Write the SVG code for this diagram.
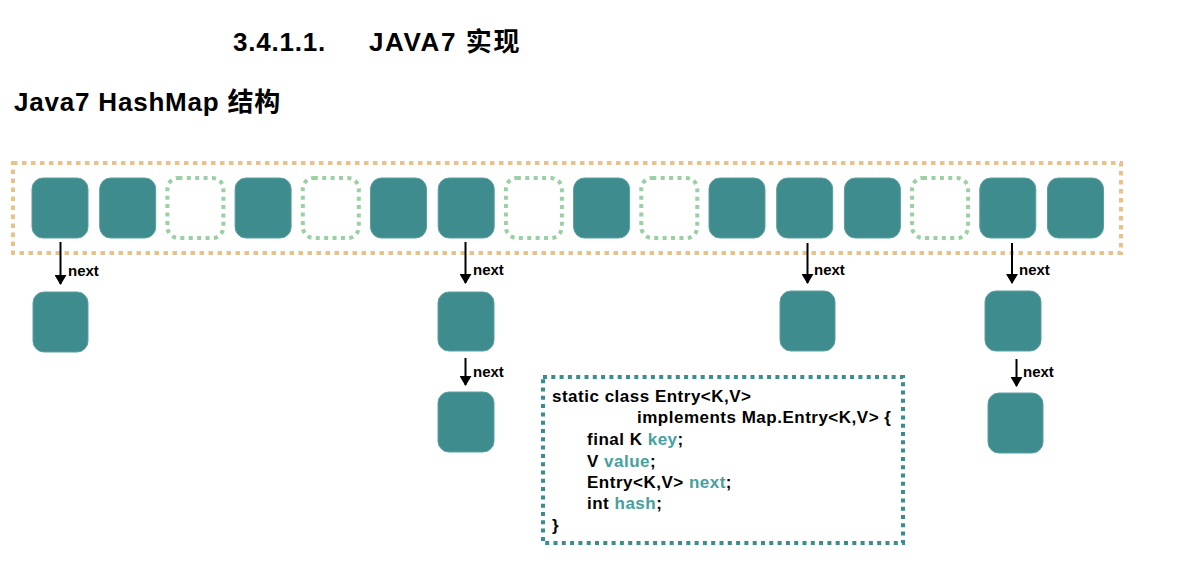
<svg xmlns="http://www.w3.org/2000/svg" width="1202" height="576" viewBox="0 0 1202 576">
  <style>
    .title { font-family: "Liberation Sans", "Noto Sans CJK SC", sans-serif; font-weight: bold; fill: #000; }
    .node { fill: #3F8C8F; stroke: #5A9FA1; stroke-width: 1; }
    .empty { fill: none; stroke: #9BCFA4; stroke-width: 4; stroke-dasharray: 4 4.4; }
    .bucket { fill: none; stroke: #E8C28B; stroke-width: 4; stroke-dasharray: 4.5 4.5; }
    .codebox { fill: none; stroke: #3A8C8E; stroke-width: 4; stroke-dasharray: 4 4.3; }
    .lbl { font-family: "Liberation Sans", sans-serif; font-weight: bold; font-size: 15px; fill: #000; }
    .code { font-family: "Liberation Sans", sans-serif; font-weight: bold; font-size: 17px; letter-spacing: 0.5px; fill: #000; }
    .hl { fill: #46A0A0; }
    .arrow { stroke: #000; stroke-width: 2; fill: none; marker-end: url(#ah); }
  </style>
  <defs>
    <marker id="ah" viewBox="0 0 10 12" refX="9" refY="6" markerWidth="10" markerHeight="12" markerUnits="userSpaceOnUse" orient="auto">
      <path d="M0,0 L10,6 L0,12 Z" fill="#000"/>
    </marker>
  </defs>
  <rect width="1202" height="576" fill="#fff"/>

  <g id="headings">
    <text class="title" x="233" y="51" font-size="26" letter-spacing="0.8">3.4.1.1.</text>
    <text class="title" x="369" y="51" font-size="26" letter-spacing="1.6">JAVA7 实现</text>
    <text class="title" x="14" y="111" font-size="26" letter-spacing="0.8">Java7 HashMap 结构</text>
  </g>

  <g id="table">
    <rect class="bucket" x="13" y="163" width="1108" height="90"/>
  </g>

  <g id="bucket-nodes">
    <rect id="b0" class="node" x="32" y="178" width="56" height="60" rx="11"/>
    <rect id="b1" class="node" x="99.7" y="178" width="56" height="60" rx="11"/>
    <rect id="b2" class="empty" x="167.4" y="178" width="56" height="60" rx="11"/>
    <rect id="b3" class="node" x="235.1" y="178" width="56" height="60" rx="11"/>
    <rect id="b4" class="empty" x="302.8" y="178" width="56" height="60" rx="11"/>
    <rect id="b5" class="node" x="370.5" y="178" width="56" height="60" rx="11"/>
    <rect id="b6" class="node" x="438.2" y="178" width="56" height="60" rx="11"/>
    <rect id="b7" class="empty" x="505.9" y="178" width="56" height="60" rx="11"/>
    <rect id="b8" class="node" x="573.6" y="178" width="56" height="60" rx="11"/>
    <rect id="b9" class="empty" x="641.3" y="178" width="56" height="60" rx="11"/>
    <rect id="b10" class="node" x="709" y="178" width="56" height="60" rx="11"/>
    <rect id="b11" class="node" x="776.7" y="178" width="56" height="60" rx="11"/>
    <rect id="b12" class="node" x="844.4" y="178" width="56" height="60" rx="11"/>
    <rect id="b13" class="empty" x="912.1" y="178" width="56" height="60" rx="11"/>
    <rect id="b14" class="node" x="979.8" y="178" width="56" height="60" rx="11"/>
    <rect id="b15" class="node" x="1047.5" y="178" width="56" height="60" rx="11"/>
  </g>

  <g id="chain-nodes">
    <rect id="c0" class="node" x="33" y="292" width="55" height="60" rx="11"/>
    <rect id="c1" class="node" x="438" y="292" width="56" height="59" rx="11"/>
    <rect id="c2" class="node" x="438" y="392" width="56" height="60" rx="11"/>
    <rect id="c3" class="node" x="780" y="291" width="55" height="60" rx="11"/>
    <rect id="c4" class="node" x="985" y="291" width="56" height="60" rx="11"/>
    <rect id="c5" class="node" x="988" y="393" width="55" height="60" rx="11"/>
  </g>

  <g id="connectors">
    <line class="arrow" x1="60.5" y1="242" x2="60.5" y2="284"/>
    <text class="lbl" x="68" y="276">next</text>
    <line class="arrow" x1="465.5" y1="242" x2="465.5" y2="283"/>
    <text class="lbl" x="473" y="275">next</text>
    <line class="arrow" x1="807.5" y1="243" x2="807.5" y2="283"/>
    <text class="lbl" x="814" y="275">next</text>
    <line class="arrow" x1="1012" y1="243" x2="1012" y2="283"/>
    <text class="lbl" x="1019" y="275">next</text>
    <line class="arrow" x1="465.5" y1="358" x2="465.5" y2="385"/>
    <text class="lbl" x="473" y="377">next</text>
    <line class="arrow" x1="1016.5" y1="359" x2="1016.5" y2="386"/>
    <text class="lbl" x="1023" y="377">next</text>
  </g>

  <g id="entry-code">
    <rect class="codebox" x="543" y="377" width="360" height="166"/>
    <text class="code" x="552" y="402">static class Entry&lt;K,V&gt;</text>
    <text class="code" x="637" y="423">implements Map.Entry&lt;K,V&gt; {</text>
    <text class="code" x="587" y="445">final K <tspan class="hl">key</tspan>;</text>
    <text class="code" x="587" y="467">V <tspan class="hl">value</tspan>;</text>
    <text class="code" x="587" y="488">Entry&lt;K,V&gt; <tspan class="hl">next</tspan>;</text>
    <text class="code" x="587" y="509">int <tspan class="hl">hash</tspan>;</text>
    <text class="code" x="552" y="531">}</text>
  </g>
</svg>
